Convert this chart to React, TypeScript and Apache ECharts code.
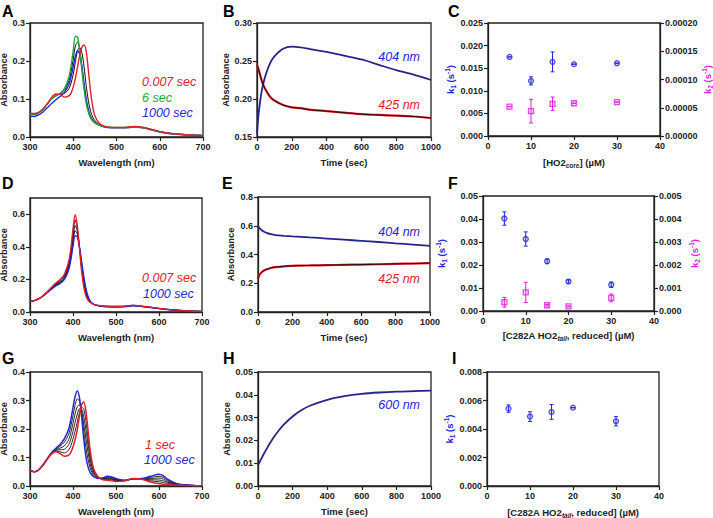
import React, { useEffect, useRef } from "react";
import * as echarts from "echarts";

const FONT = "'Liberation Sans', Arial, Helvetica, sans-serif";
const AX = "#222";
const RED = "#e0202a";
const GREEN = "#1fa83a";
const BLUE = "#2626d6";
const NAVY = "#25258c";
const MAG = "#dd22dd";

// ---------- spectra (wavelength grid, nm) ----------
const WL = [300, 310, 320, 330, 340, 350, 360, 370, 380, 390, 395, 400, 405, 410, 415, 420, 425, 430, 435, 440, 445, 450, 460, 470, 480, 490, 500, 520, 540, 560, 580, 600, 610, 620, 640, 660, 680, 700];

// Panel A
const A_RED = [0.062, 0.062, 0.065, 0.074, 0.088, 0.104, 0.113, 0.112, 0.105, 0.108, 0.116, 0.132, 0.155, 0.185, 0.215, 0.236, 0.242, 0.225, 0.175, 0.120, 0.080, 0.056, 0.036, 0.029, 0.026, 0.025, 0.025, 0.025, 0.028, 0.026, 0.020, 0.014, 0.012, 0.010, 0.008, 0.006, 0.005, 0.004];
const A_BLK1 = [0.060, 0.060, 0.064, 0.073, 0.087, 0.100, 0.108, 0.114, 0.124, 0.148, 0.172, 0.205, 0.240, 0.250, 0.230, 0.185, 0.135, 0.095, 0.068, 0.052, 0.043, 0.038, 0.031, 0.028, 0.026, 0.025, 0.025, 0.025, 0.027, 0.025, 0.020, 0.014, 0.012, 0.010, 0.008, 0.006, 0.005, 0.004];
const A_BLK2 = [0.059, 0.059, 0.063, 0.072, 0.086, 0.100, 0.109, 0.113, 0.115, 0.127, 0.142, 0.165, 0.198, 0.228, 0.236, 0.222, 0.185, 0.135, 0.095, 0.068, 0.052, 0.043, 0.033, 0.028, 0.026, 0.025, 0.025, 0.025, 0.027, 0.025, 0.020, 0.014, 0.012, 0.010, 0.008, 0.006, 0.005, 0.004];
const A_GRN = [0.060, 0.059, 0.064, 0.073, 0.087, 0.100, 0.108, 0.115, 0.128, 0.158, 0.188, 0.228, 0.265, 0.262, 0.228, 0.175, 0.125, 0.088, 0.065, 0.050, 0.042, 0.037, 0.031, 0.028, 0.026, 0.025, 0.025, 0.025, 0.027, 0.025, 0.020, 0.014, 0.012, 0.010, 0.008, 0.006, 0.005, 0.004];
const A_BLU = [0.055, 0.054, 0.058, 0.066, 0.077, 0.088, 0.098, 0.107, 0.118, 0.138, 0.158, 0.185, 0.213, 0.227, 0.218, 0.185, 0.140, 0.100, 0.072, 0.054, 0.044, 0.038, 0.031, 0.027, 0.025, 0.024, 0.024, 0.024, 0.026, 0.024, 0.019, 0.013, 0.011, 0.009, 0.007, 0.005, 0.004, 0.003];

// Panel D
const D_RED = [0.065, 0.070, 0.082, 0.100, 0.125, 0.152, 0.178, 0.200, 0.232, 0.310, 0.390, 0.510, 0.598, 0.530, 0.390, 0.250, 0.155, 0.100, 0.072, 0.058, 0.050, 0.045, 0.040, 0.037, 0.036, 0.035, 0.035, 0.036, 0.042, 0.036, 0.030, 0.022, 0.019, 0.016, 0.012, 0.008, 0.005, 0.004];
const D_BLK1 = [0.065, 0.070, 0.082, 0.099, 0.123, 0.149, 0.173, 0.193, 0.224, 0.297, 0.370, 0.480, 0.565, 0.515, 0.395, 0.270, 0.175, 0.115, 0.080, 0.062, 0.052, 0.045, 0.039, 0.036, 0.035, 0.034, 0.034, 0.035, 0.041, 0.035, 0.029, 0.022, 0.019, 0.016, 0.012, 0.008, 0.005, 0.004];
const D_BLK2 = [0.065, 0.070, 0.081, 0.098, 0.121, 0.146, 0.169, 0.186, 0.215, 0.283, 0.350, 0.450, 0.530, 0.500, 0.400, 0.285, 0.190, 0.125, 0.085, 0.064, 0.052, 0.045, 0.038, 0.035, 0.034, 0.033, 0.033, 0.034, 0.040, 0.035, 0.029, 0.021, 0.018, 0.015, 0.011, 0.008, 0.005, 0.004];
const D_BLK3 = [0.065, 0.070, 0.080, 0.098, 0.120, 0.143, 0.165, 0.180, 0.207, 0.270, 0.335, 0.425, 0.500, 0.480, 0.400, 0.300, 0.205, 0.135, 0.090, 0.066, 0.053, 0.045, 0.038, 0.034, 0.033, 0.032, 0.032, 0.033, 0.039, 0.034, 0.028, 0.021, 0.018, 0.015, 0.011, 0.007, 0.005, 0.003];
const D_BLU = [0.065, 0.070, 0.080, 0.097, 0.118, 0.140, 0.160, 0.175, 0.200, 0.260, 0.320, 0.405, 0.468, 0.460, 0.400, 0.310, 0.220, 0.145, 0.095, 0.068, 0.053, 0.045, 0.038, 0.034, 0.032, 0.031, 0.031, 0.032, 0.038, 0.034, 0.028, 0.021, 0.018, 0.015, 0.011, 0.007, 0.005, 0.003];

// Panel G
const G_RED = [0.055, 0.050, 0.056, 0.072, 0.093, 0.112, 0.120, 0.114, 0.104, 0.108, 0.118, 0.137, 0.163, 0.198, 0.245, 0.285, 0.295, 0.262, 0.195, 0.125, 0.078, 0.052, 0.030, 0.022, 0.020, 0.018, 0.016, 0.018, 0.026, 0.024, 0.014, 0.008, 0.006, 0.005, 0.003, 0.002, 0.001, 0.001];
const G_BLK1 = [0.055, 0.050, 0.056, 0.072, 0.094, 0.113, 0.122, 0.120, 0.116, 0.126, 0.141, 0.165, 0.193, 0.225, 0.258, 0.277, 0.269, 0.230, 0.169, 0.109, 0.070, 0.048, 0.029, 0.023, 0.023, 0.021, 0.018, 0.018, 0.026, 0.024, 0.018, 0.015, 0.012, 0.009, 0.004, 0.002, 0.001, 0.001];
const G_BLK2 = [0.055, 0.050, 0.056, 0.073, 0.094, 0.114, 0.125, 0.127, 0.129, 0.145, 0.164, 0.192, 0.224, 0.252, 0.271, 0.269, 0.243, 0.198, 0.144, 0.094, 0.062, 0.044, 0.028, 0.025, 0.026, 0.024, 0.020, 0.019, 0.026, 0.025, 0.022, 0.021, 0.018, 0.013, 0.005, 0.003, 0.002, 0.001];
const G_BLK3 = [0.055, 0.050, 0.057, 0.073, 0.095, 0.115, 0.127, 0.133, 0.141, 0.163, 0.187, 0.220, 0.254, 0.279, 0.284, 0.261, 0.217, 0.167, 0.118, 0.078, 0.053, 0.039, 0.028, 0.026, 0.028, 0.026, 0.022, 0.019, 0.025, 0.025, 0.026, 0.028, 0.024, 0.016, 0.007, 0.003, 0.002, 0.001];
const G_BLK4 = [0.055, 0.050, 0.057, 0.074, 0.095, 0.116, 0.130, 0.140, 0.154, 0.182, 0.210, 0.247, 0.285, 0.306, 0.297, 0.253, 0.191, 0.135, 0.093, 0.063, 0.045, 0.035, 0.027, 0.028, 0.031, 0.029, 0.024, 0.020, 0.025, 0.026, 0.030, 0.034, 0.030, 0.020, 0.008, 0.004, 0.002, 0.001];
const G_BLU = [0.055, 0.050, 0.057, 0.074, 0.096, 0.117, 0.132, 0.146, 0.166, 0.200, 0.233, 0.275, 0.315, 0.333, 0.310, 0.245, 0.165, 0.103, 0.067, 0.047, 0.037, 0.031, 0.026, 0.029, 0.034, 0.032, 0.026, 0.020, 0.025, 0.026, 0.034, 0.041, 0.036, 0.024, 0.009, 0.004, 0.002, 0.001];

// ---------- kinetic traces (time, sec) ----------
const T = [0, 5, 10, 20, 30, 50, 75, 100, 150, 200, 250, 300, 400, 500, 600, 700, 800, 900, 1000];
const B_404 = [0.155, 0.170, 0.182, 0.200, 0.214, 0.232, 0.247, 0.256, 0.266, 0.269, 0.268, 0.266, 0.262, 0.257, 0.252, 0.245, 0.238, 0.232, 0.225];
const B_425 = [0.245, 0.242, 0.238, 0.230, 0.222, 0.212, 0.203, 0.198, 0.192, 0.189, 0.188, 0.186, 0.184, 0.182, 0.180, 0.179, 0.178, 0.177, 0.175];
const E_404 = [0.600, 0.590, 0.582, 0.570, 0.562, 0.550, 0.541, 0.535, 0.530, 0.526, 0.523, 0.519, 0.511, 0.503, 0.495, 0.487, 0.478, 0.469, 0.460];
const E_425 = [0.230, 0.250, 0.262, 0.275, 0.285, 0.297, 0.306, 0.312, 0.318, 0.321, 0.323, 0.324, 0.326, 0.328, 0.330, 0.332, 0.335, 0.337, 0.340];
const H_600 = [0.0090, 0.0098, 0.0106, 0.0121, 0.0136, 0.0163, 0.0195, 0.0224, 0.0270, 0.0305, 0.0332, 0.0352, 0.0378, 0.0394, 0.0404, 0.0410, 0.0414, 0.0416, 0.0418];

// ---------- rate constants vs concentration (µM) ----------
const CONC = [5, 10, 15, 20, 30];
const C_K1 = [0.0175, 0.0122, 0.0164, 0.0159, 0.0161];
const C_K1_ERR = [0, 0.0009, 0.0022, 0, 0];
const C_K2 = [0.000052, 0.000044, 0.000057, 0.000058, 0.000060];
const C_K2_ERR = [0, 0.000021, 0.000012, 0, 0];
const F_K1 = [0.0402, 0.0313, 0.0216, 0.0128, 0.0114];
const F_K1_ERR = [0.0029, 0.0031, 0.0010, 0.0007, 0.0012];
const F_K2 = [0.00038, 0.00081, 0.00025, 0.00020, 0.00057];
const F_K2_ERR = [0.00021, 0.00044, 0.00003, 0.00002, 0.00017];
const I_K1 = [0.00543, 0.00487, 0.00520, 0.00550, 0.00455];
const I_K1_ERR = [0.00026, 0.00034, 0.00052, 0, 0.00033];

const GRIDS = [
  { left: 30, top: 23, width: 173, height: 114 },
  { left: 257, top: 23, width: 174, height: 114 },
  { left: 488, top: 23, width: 172, height: 113 },
  { left: 30, top: 198, width: 172, height: 114 },
  { left: 258, top: 197, width: 172, height: 115 },
  { left: 483, top: 196, width: 171, height: 115 },
  { left: 30, top: 372, width: 172, height: 114 },
  { left: 258, top: 372, width: 173, height: 114 },
  { left: 487, top: 372, width: 172, height: 114 },
];

function rich(color: string) {
  const base = { fontFamily: FONT, fontWeight: "bold", color };
  return {
    n: { ...base, fontSize: 9.5, lineHeight: 13, verticalAlign: "middle" },
    sub: { ...base, fontSize: 6.5, lineHeight: 7, verticalAlign: "bottom" },
    subi: { ...base, fontSize: 6.5, lineHeight: 7, verticalAlign: "bottom", fontStyle: "italic" },
    sup: { ...base, fontSize: 6.5, lineHeight: 7, verticalAlign: "top" },
  };
}

function xAx(grid: number, min: number, max: number, interval: number, name: string, gap = 20) {
  return {
    type: "value", gridIndex: grid, min, max, interval,
    name, nameLocation: "middle", nameGap: gap,
    nameTextStyle: { color: AX, fontFamily: FONT, fontWeight: "bold", fontSize: 9.5, rich: rich(AX) },
    axisLine: { show: true, onZero: false, lineStyle: { color: AX, width: 1.3 } },
    axisTick: { show: true, length: 4, lineStyle: { color: AX, width: 1.2 } },
    axisLabel: { color: AX, fontFamily: FONT, fontWeight: "bold", fontSize: 9, margin: 5, formatter: (v: number) => String(Math.round(v)) },
    splitLine: { show: false },
  };
}

function yAx(grid: number, min: number, max: number, interval: number, dec: number, name: string, gap: number, color = AX, position = "left", custom?: number[]) {
  const ax: any = {
    type: "value", gridIndex: grid, min, max, interval, position,
    name, nameLocation: "middle", nameGap: gap,
    nameTextStyle: { color, fontFamily: FONT, fontWeight: "bold", fontSize: 9.3, lineHeight: 10, rich: rich(color) },
    axisLine: { show: true, onZero: false, lineStyle: { color: AX, width: 1.3 } },
    axisTick: { show: true, length: 4, lineStyle: { color: AX, width: 1.2 } },
    axisLabel: { color: AX, fontFamily: FONT, fontWeight: "bold", fontSize: 9, margin: 5, formatter: (v: number) => v.toFixed(dec) },
    splitLine: { show: false },
  };
  if (custom) {
    ax.axisLabel.customValues = custom;
    ax.axisTick.customValues = custom;
  }
  return ax;
}

function specLine(idx: number, xs: number[], ys: number[], color: string, width: number, z = 2) {
  return {
    type: "line", xAxisIndex: idx, yAxisIndex: idx, z,
    data: xs.map((x, i) => [x, ys[i]]),
    showSymbol: false, smooth: 0.3, silent: true,
    lineStyle: { color, width },
  };
}

function scatter(xi: number, yi: number, ys: number[], color: string, fill: string, symbol: string, size: number) {
  return {
    type: "scatter", xAxisIndex: xi, yAxisIndex: yi, z: 5,
    data: CONC.map((x, i) => [x, ys[i]]),
    symbol, symbolSize: size,
    itemStyle: { color: fill, borderColor: color, borderWidth: 1.3 },
  };
}

function errBars(xi: number, yi: number, ys: number[], errs: number[], color: string) {
  return {
    type: "custom", xAxisIndex: xi, yAxisIndex: yi, z: 4,
    data: CONC.map((x, i) => [x, ys[i] - errs[i], ys[i] + errs[i]]),
    encode: { x: 0, y: [1, 2] },
    renderItem: (_p: any, api: any) => {
      const x = api.value(0);
      const lo = api.coord([x, api.value(1)]);
      const hi = api.coord([x, api.value(2)]);
      const w = 2;
      const st = { stroke: color, lineWidth: 1 };
      return {
        type: "group",
        children: [
          { type: "line", shape: { x1: hi[0], y1: hi[1], x2: lo[0], y2: lo[1] }, style: st },
          { type: "line", shape: { x1: hi[0] - w, y1: hi[1], x2: hi[0] + w, y2: hi[1] }, style: st },
          { type: "line", shape: { x1: lo[0] - w, y1: lo[1], x2: lo[0] + w, y2: lo[1] }, style: st },
        ],
      };
    },
  };
}

function label(text: string, x: number, y: number, color: string, align = "left") {
  return {
    type: "text", x, y, z: 10,
    style: { text, fill: color, font: `italic 12.5px ${FONT}`, align, verticalAlign: "middle" },
  };
}

function letter(text: string, x: number, y: number) {
  return {
    type: "text", x, y, z: 10,
    style: { text, fill: "#000", font: `bold 16px ${FONT}`, align: "left", verticalAlign: "top" },
  };
}

const K1 = "{n|k}{sub|1}{n| (s}{sup|-1}{n|)}";
const K2 = "{n|k}{sub|2}{n| (s}{sup|-1}{n|)}";
const TAIL = "{n|[C282A HO2}{subi|tail}{n|, reduced] (µM)}";

function buildOption() {
  const grid = GRIDS.map((g) => ({ ...g, show: true, borderColor: AX, borderWidth: 1.3, backgroundColor: "transparent", containLabel: false, outerBoundsMode: "none" }));
  const xAxis = [
    xAx(0, 300, 700, 100, "Wavelength (nm)"),
    xAx(1, 0, 1000, 200, "Time (sec)"),
    xAx(2, 0, 40, 10, "{n|[HO2}{sub|core}{n|] (µM)}"),
    xAx(3, 300, 700, 100, "Wavelength (nm)"),
    xAx(4, 0, 1000, 200, "Time (sec)"),
    xAx(5, 0, 40, 10, TAIL, 18),
    xAx(6, 300, 700, 100, "Wavelength (nm)"),
    xAx(7, 0, 1000, 200, "Time (sec)"),
    xAx(8, 0, 40, 10, TAIL),
  ];
  const yAxis = [
    yAx(0, 0, 0.3, 0.1, 1, "Absorbance", 18),
    yAx(1, 0.15, 0.3, 0.05, 2, "Absorbance", 23),
    yAx(2, 0, 0.025, 0.005, 3, K1, 31, BLUE),
    yAx(3, 0, 0.7, 0.1, 1, "Absorbance", 18, AX, "left", [0, 0.2, 0.4, 0.6]),
    yAx(4, 0, 0.8, 0.2, 1, "Absorbance", 22),
    yAx(5, 0, 0.05, 0.01, 2, K1, 35, BLUE),
    yAx(6, 0, 0.4, 0.1, 1, "Absorbance", 18),
    yAx(7, 0, 0.05, 0.01, 2, "Absorbance", 23),
    yAx(8, 0, 0.008, 0.002, 3, K1, 30, BLUE),
    yAx(2, 0, 0.0002, 0.00005, 5, K2, 36, MAG, "right"),
    yAx(5, 0, 0.005, 0.001, 3, K2, 34, MAG, "right"),
  ];
  const series: any[] = [
    // A
    specLine(0, WL, A_BLK2, "#111", 1),
    specLine(0, WL, A_BLK1, "#111", 1),
    specLine(0, WL, A_BLU, BLUE, 1.4),
    specLine(0, WL, A_GRN, GREEN, 1.4),
    specLine(0, WL, A_RED, RED, 1.4),
    // B
    specLine(1, T, B_425, RED, 2.2),
    specLine(1, T, B_425, "#000", 0.8, 3),
    specLine(1, T, B_404, NAVY, 1.8),
    // C
    errBars(2, 2, C_K1, C_K1_ERR, BLUE),
    scatter(2, 2, C_K1, BLUE, "rgba(60,60,230,0.25)", "circle", 5),
    errBars(2, 9, C_K2, C_K2_ERR, MAG),
    scatter(2, 9, C_K2, MAG, "rgba(230,60,230,0.2)", "rect", 5),
    // D
    specLine(3, WL, D_BLK3, "#111", 1),
    specLine(3, WL, D_BLK2, "#111", 1),
    specLine(3, WL, D_BLK1, "#111", 1),
    specLine(3, WL, D_BLU, BLUE, 1.4),
    specLine(3, WL, D_RED, RED, 1.4),
    // E
    specLine(4, T, E_425, RED, 2.2),
    specLine(4, T, E_425, "#000", 0.8, 3),
    specLine(4, T, E_404, NAVY, 1.8),
    // F
    errBars(5, 5, F_K1, F_K1_ERR, BLUE),
    scatter(5, 5, F_K1, BLUE, "rgba(60,60,230,0.25)", "circle", 5),
    errBars(5, 10, F_K2, F_K2_ERR, MAG),
    scatter(5, 10, F_K2, MAG, "rgba(230,60,230,0.2)", "rect", 5),
    // G
    specLine(6, WL, G_BLK1, "#111", 0.9),
    specLine(6, WL, G_BLK2, "#111", 0.9),
    specLine(6, WL, G_BLK3, "#111", 0.9),
    specLine(6, WL, G_BLK4, "#111", 0.9),
    specLine(6, WL, G_BLU, BLUE, 1.5),
    specLine(6, WL, G_RED, RED, 1.5),
    // H
    specLine(7, T, H_600, NAVY, 1.8),
    // I
    errBars(8, 8, I_K1, I_K1_ERR, BLUE),
    scatter(8, 8, I_K1, BLUE, "rgba(60,60,230,0.25)", "circle", 5),
  ];
  const graphic = [
    letter("A", 2, 3), letter("B", 223, 3), letter("C", 448, 3),
    letter("D", 2, 175), letter("E", 222, 175), letter("F", 448, 175),
    letter("G", 2, 350), letter("H", 223, 350), letter("I", 452, 350),
    label("0.007 sec", 142, 82, RED), label("6 sec", 142, 98, GREEN), label("1000 sec", 142, 113, BLUE),
    label("404 nm", 420, 57, BLUE, "right"), label("425 nm", 420, 105, RED, "right"),
    label("0.007 sec", 142, 278, RED), label("1000 sec", 143, 294, BLUE),
    label("404 nm", 420, 232, BLUE, "right"), label("425 nm", 420, 279, RED, "right"),
    label("1 sec", 145, 445, RED), label("1000 sec", 144, 460, BLUE),
    label("600 nm", 420, 405, BLUE, "right"),
  ];
  return { animation: false, backgroundColor: "#fff", grid, xAxis, yAxis, series, graphic };
}

export default function App() {
  const ref = useRef<HTMLDivElement>(null);
  useEffect(() => {
    const chart = echarts.init(ref.current!, null, { renderer: "svg" });
    chart.setOption(buildOption() as any);
    return () => chart.dispose();
  }, []);
  return <div ref={ref} style={{ position: "fixed", left: 0, top: 0, width: 713, height: 518, background: "#fff" }} />;
}
